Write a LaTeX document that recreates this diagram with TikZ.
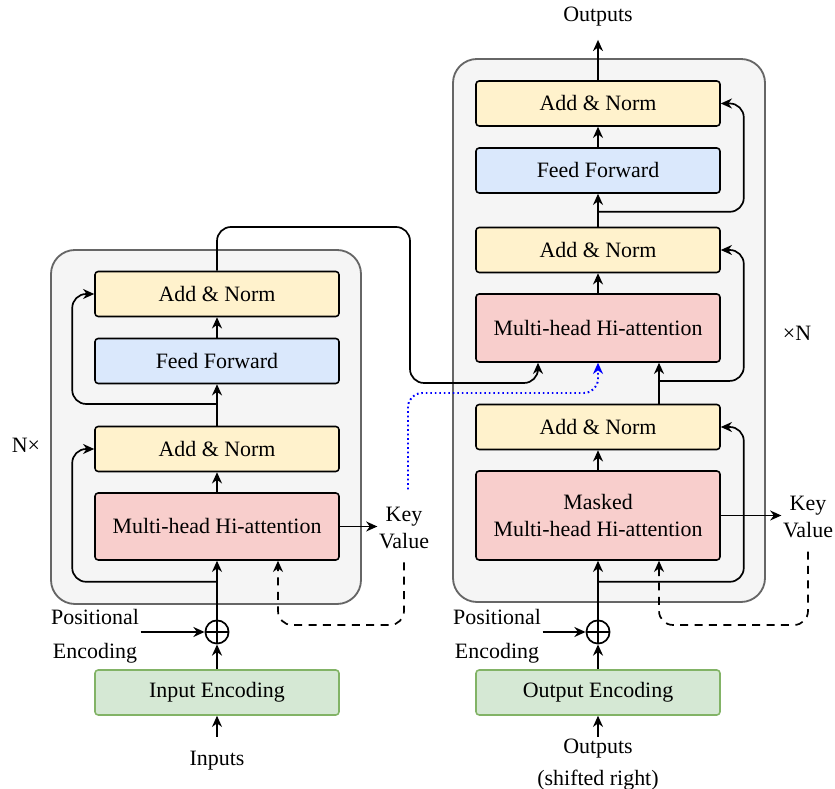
\documentclass[tikz,border=0pt]{standalone}
\usepackage{fontspec}
\setmainfont{Liberation Serif}
\usetikzlibrary{arrows.meta,calc}

\definecolor{normfill}{HTML}{FFF2CC}
\definecolor{ffnfill}{HTML}{DAE8FC}
\definecolor{attnfill}{HTML}{F8CECC}
\definecolor{embfill}{HTML}{D5E8D4}
\definecolor{embdraw}{HTML}{82B366}
\definecolor{stackfill}{HTML}{F5F5F5}
\definecolor{stackdraw}{HTML}{666666}

\begin{document}
\begin{tikzpicture}[
  font=\fontsize{15.6}{19.2}\selectfont,
  stack/.style={draw=stackdraw, fill=stackfill, line width=1.3pt, rounded corners=6mm},
  blk/.style={draw, line width=1.1pt, rounded corners=0.8mm, minimum width=6.1cm, minimum height=1.125cm, inner sep=0pt, align=center},
  norm/.style={blk, fill=normfill},
  ffn/.style={blk, fill=ffnfill},
  attn/.style={blk, fill=attnfill},
  embed/.style={blk, fill=embfill, draw=embdraw},
  plus/.style={circle, draw, line width=1.2pt, minimum size=5.8mm, inner sep=0pt,
    path picture={\draw[line width=1.2pt] (path picture bounding box.north) -- (path picture bounding box.south)
      (path picture bounding box.west) -- (path picture bounding box.east);}},
  lab/.style={inner sep=1pt, align=center},
  wire/.style={line width=1.2pt, rounded corners=3.5mm},
  arr/.style={wire, -{Stealth[length=2.8mm, width=2.5mm]}},
  kv/.style={arr, dash pattern=on 2mm off 1.6mm},
  cross/.style={arr, blue, dotted, line width=1.4pt},
]
\useasboundingbox (0,0) rectangle (20.875,19.725);

% stacks
\node[stack, minimum width=7.75cm, minimum height=8.85cm] (encbox) at (5.15,9.05) {};
\node[stack, minimum width=7.8cm, minimum height=13.575cm] (decbox) at (15.225,11.4625) {};
\node[lab] (encn) at (0.65,8.6) {N×};
\node[lab] (decn) at (19.925,11.4) {×N};

% encoder
\node[norm] (ean2) at (5.425,12.375) {Add \& Norm};
\node[ffn] (eff) at (5.425,10.7) {Feed Forward};
\node[norm] (ean1) at (5.425,8.5) {Add \& Norm};
\node[attn, minimum height=1.675cm] (emha) at (5.425,6.5625) {Multi-head Hi-attention};
\node[plus] (eadd) at (5.425,3.925) {};
\node[embed] (eemb) at (5.425,2.4125) {Input Encoding};
\node[lab] (einp) at (5.425,0.72) {Inputs};
\node[lab] (epos) at (2.375,3.82) {Positional\\[5pt]Encoding};
\node[lab] (ekv) at (10.1,6.53) {Key\\Value};

% decoder
\node[norm] (dan3) at (14.95,17.1375) {Add \& Norm};
\node[ffn] (dff) at (14.95,15.4625) {Feed Forward};
\node[norm] (dan2) at (14.95,13.475) {Add \& Norm};
\node[attn, minimum height=1.7cm] (dmha) at (14.95,11.525) {Multi-head Hi-attention};
\node[norm] (dan1) at (14.95,9.05) {Add \& Norm};
\node[attn, minimum height=2.225cm] (dmmha) at (14.95,6.8375) {Masked\\Multi-head Hi-attention};
\node[plus] (dadd) at (14.95,3.925) {};
\node[embed] (demb) at (14.95,2.4125) {Output Encoding};
\node[lab, anchor=north] (dinp) at (14.95,1.3) {Outputs\\[3.6pt](shifted right)};
\node[lab] (dpos) at (12.425,3.82) {Positional\\[5pt]Encoding};
\node[lab] (dkv) at (20.2,6.8) {Key\\Value};
\node[lab] (dout) at (14.95,19.31) {Outputs};

\coordinate (er1) at (5.425,5.18);
\coordinate (er2) at (5.425,9.625);
\coordinate (dr1) at (14.95,5.18);
\coordinate (dq) at ($(dan1.north)+(1.525,0)$);
\coordinate (dr2) at ($(dq)+(0,0.57)$);
\coordinate (dr3) at (14.95,14.43);

% encoder flow
\draw[arr] ([yshift=3mm]einp.north) -- (eemb.south);
\draw[arr] (eemb.north) -- (eadd.south);
\draw[arr] (epos.east |- eadd.west) -- (eadd.west);
\draw[arr] (eadd.north) -- (emha.south);
\draw[arr] (emha.north) -- (ean1.south);
\draw[arr] (ean1.north) -- (eff.south);
\draw[arr] (eff.north) -- (ean2.south);
\draw[arr] (er1) -| ($(ean1.west)+(-0.55,0)$) -- (ean1.west);
\draw[arr] (er2) -| ($(ean2.west)+(-0.55,0)$) -- (ean2.west);
\draw[arr] (emha.east) -- (emha.east -| ekv.west);
\draw[kv] ([yshift=-3mm]ekv.south) |- (6.95,4.1) -- (6.95,0 |- emha.south);

% encoder to decoder
\draw[arr] (ean2.north) |- (10.25,14.05) |- (13.45,10.15) -- ($(dmha.south)+(-1.5,0)$);
\draw[cross] ([xshift=1mm,yshift=4mm]ekv.north) |- (14.95,9.9) -- (dmha.south);

% decoder flow
\draw[arr] (dinp.north) -- (demb.south);
\draw[arr] (demb.north) -- (dadd.south);
\draw[arr] (dpos.east |- dadd.west) -- (dadd.west);
\draw[arr] (dadd.north) -- (dmmha.south);
\draw[arr] (dmmha.north) -- (dan1.south);
\draw[arr] (dq) -- ($(dmha.south)+(1.525,0)$);
\draw[arr] (dmha.north) -- (dan2.south);
\draw[arr] (dan2.north) -- (dff.south);
\draw[arr] (dff.north) -- (dan3.south);
\draw[arr] (dan3.north) -- ([yshift=-3mm]dout.south);
\draw[arr] (dr1) -| ($(dan1.east)+(0.575,0)$) -- (dan1.east);
\draw[arr] (dr2) -| ($(dan2.east)+(0.575,0)$) -- (dan2.east);
\draw[arr] (dr3) -| ($(dan3.east)+(0.575,0)$) -- (dan3.east);
\draw[arr] (dmmha.east) -- (dmmha.east -| dkv.west);
\draw[kv] ([yshift=-3mm]dkv.south) |- (16.475,4.1) -- ($(dmmha.south)+(1.525,0)$);
\end{tikzpicture}
\end{document}
